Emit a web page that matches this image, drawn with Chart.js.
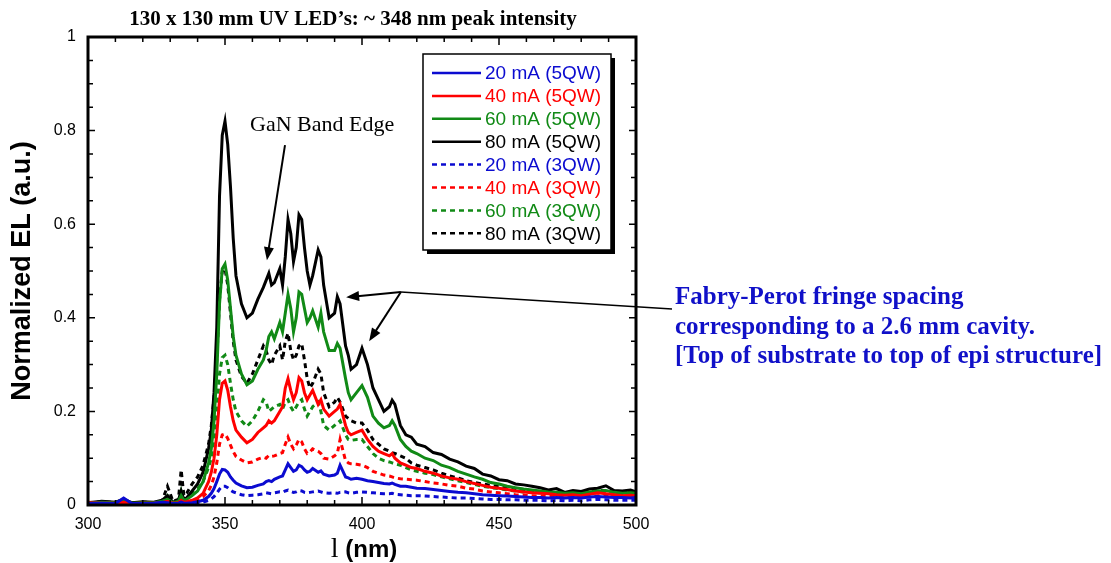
<!DOCTYPE html>
<html>
<head>
<meta charset="utf-8">
<script src="https://cdn.jsdelivr.net/npm/chart.js@4/dist/chart.umd.min.js"></script>
<style>
  body { margin: 0; background: #fff; }
  canvas { display: block; }
</style>
</head>
<body>
<canvas id="elChart" width="1111" height="563"></canvas>
<script>
// wavelength in nm, shared by all spectra
const wavelength = [
  300,305,310,313,316,320,324,327,329,331,333,334,335,336,338,340,
  342,344,345,346,347,348,349,350,351,352,353,354,356,358,360,
  362,364,365,366,367,368,370,371,372,373,374,375,376,377,378,379,380,381,382,384,385,386,388,390,391,392,394,395,396,398,400,
  402,404,406,408,410,411,412,414,416,418,420,
  423,426,429,432,435,438,441,444,447,450,453,456,459,462,465,468,471,474,477,480,483,486,489,492,495,498,500
];

// 5QW devices (solid lines)
const el20mA5QW = [
  0.003,0.004,0.003,0.015,0.003,0.003,0.004,0.006,0.005,0.003,0.004,0.006,0.004,0.004,0.005,0.007,
  0.01,0.018,0.025,0.035,0.05,0.066,0.076,0.075,0.07,0.06,0.053,0.047,0.041,0.037,0.038,
  0.042,0.045,0.05,0.052,0.05,0.055,0.06,0.062,0.075,0.088,0.08,0.072,0.075,0.085,0.082,0.075,0.07,0.072,0.078,0.07,0.073,0.066,0.062,0.064,0.068,0.085,0.06,0.058,0.055,0.057,0.055,
  0.052,0.05,0.048,0.046,0.045,0.047,0.044,0.04,0.04,0.038,0.036,
  0.035,0.033,0.031,0.029,0.027,0.026,0.024,0.022,0.021,0.02,0.019,0.018,0.017,0.016,0.016,0.015,0.016,0.015,0.016,0.015,0.017,0.018,0.017,0.016,0.016,0.015,0.016
];
const el40mA5QW = [
  0.005,0.004,0.004,0.006,0.003,0.004,0.004,0.005,0.008,0.004,0.005,0.01,0.006,0.007,0.01,0.015,
  0.025,0.05,0.07,0.1,0.15,0.225,0.26,0.265,0.245,0.21,0.18,0.16,0.145,0.133,0.14,
  0.155,0.165,0.17,0.18,0.175,0.18,0.2,0.21,0.25,0.27,0.245,0.225,0.24,0.272,0.265,0.24,0.225,0.235,0.245,0.215,0.225,0.205,0.19,0.2,0.205,0.215,0.17,0.155,0.15,0.155,0.16,
  0.14,0.125,0.115,0.11,0.105,0.11,0.1,0.09,0.085,0.08,0.078,
  0.072,0.068,0.062,0.058,0.055,0.05,0.046,0.042,0.038,0.036,0.033,0.03,0.028,0.026,0.025,0.024,0.022,0.021,0.022,0.02,0.023,0.026,0.024,0.022,0.02,0.021,0.02
];
const el60mA5QW = [
  0.004,0.006,0.005,0.01,0.004,0.005,0.005,0.008,0.012,0.005,0.008,0.02,0.01,0.012,0.02,0.03,
  0.05,0.09,0.12,0.18,0.28,0.43,0.505,0.515,0.48,0.42,0.36,0.32,0.28,0.257,0.265,
  0.29,0.31,0.33,0.36,0.37,0.355,0.39,0.37,0.41,0.45,0.42,0.37,0.40,0.455,0.45,0.42,0.39,0.40,0.415,0.38,0.41,0.37,0.33,0.33,0.345,0.335,0.27,0.24,0.225,0.24,0.255,
  0.23,0.19,0.175,0.165,0.17,0.18,0.17,0.14,0.125,0.115,0.11,
  0.1,0.095,0.085,0.08,0.072,0.066,0.06,0.055,0.048,0.045,0.04,0.037,0.034,0.032,0.03,0.028,0.027,0.025,0.026,0.024,0.028,0.03,0.031,0.027,0.025,0.026,0.025
];
const el80mA5QW = [
  0.005,0.008,0.006,0.012,0.005,0.007,0.006,0.01,0.02,0.006,0.01,0.03,0.012,0.015,0.03,0.045,
  0.07,0.12,0.16,0.24,0.38,0.66,0.79,0.82,0.77,0.68,0.57,0.49,0.43,0.40,0.41,
  0.44,0.465,0.48,0.495,0.47,0.475,0.505,0.47,0.53,0.61,0.58,0.52,0.55,0.62,0.61,0.55,0.50,0.47,0.49,0.545,0.53,0.47,0.40,0.41,0.445,0.43,0.34,0.32,0.29,0.30,0.335,
  0.30,0.25,0.225,0.20,0.21,0.224,0.215,0.17,0.15,0.145,0.13,
  0.125,0.112,0.108,0.098,0.092,0.083,0.078,0.066,0.062,0.054,0.052,0.045,0.043,0.04,0.037,0.032,0.035,0.027,0.031,0.029,0.034,0.036,0.041,0.031,0.03,0.032,0.028
];

// 3QW devices (dashed lines)
const el20mA3QW = [
  0.002,0.003,0.003,0.01,0.002,0.003,0.003,0.004,0.003,0.002,0.003,0.004,0.003,0.003,0.003,0.004,
  0.006,0.01,0.013,0.018,0.025,0.034,0.04,0.04,0.037,0.032,0.028,0.026,0.022,0.02,0.021,
  0.022,0.024,0.026,0.025,0.024,0.026,0.028,0.027,0.03,0.032,0.029,0.027,0.028,0.031,0.03,0.027,0.026,0.027,0.028,0.03,0.028,0.026,0.025,0.026,0.025,0.027,0.028,0.026,0.025,0.027,0.028,
  0.027,0.026,0.025,0.024,0.024,0.025,0.023,0.022,0.021,0.02,0.02,
  0.019,0.018,0.017,0.016,0.015,0.015,0.014,0.013,0.012,0.012,0.011,0.011,0.01,0.01,0.01,0.009,0.01,0.009,0.01,0.009,0.011,0.012,0.011,0.01,0.01,0.01,0.01
];
const el40mA3QW = [
  0.006,0.004,0.003,0.005,0.003,0.004,0.003,0.004,0.006,0.003,0.004,0.008,0.005,0.006,0.008,0.012,
  0.018,0.03,0.042,0.06,0.09,0.13,0.15,0.152,0.142,0.128,0.114,0.104,0.096,0.09,0.092,
  0.098,0.102,0.1,0.106,0.104,0.105,0.11,0.112,0.13,0.145,0.13,0.12,0.128,0.14,0.135,0.12,0.11,0.113,0.12,0.115,0.11,0.1,0.098,0.105,0.11,0.14,0.095,0.09,0.088,0.087,0.085,
  0.08,0.072,0.068,0.064,0.062,0.06,0.058,0.056,0.055,0.054,0.053,
  0.05,0.047,0.045,0.042,0.04,0.036,0.034,0.03,0.028,0.026,0.024,0.022,0.021,0.02,0.019,0.018,0.018,0.017,0.018,0.017,0.018,0.02,0.019,0.018,0.017,0.017,0.016
];
const el60mA3QW = [
  0.004,0.005,0.005,0.012,0.004,0.005,0.005,0.007,0.02,0.005,0.008,0.03,0.012,0.015,0.025,0.035,
  0.05,0.08,0.1,0.14,0.2,0.28,0.315,0.32,0.3,0.26,0.225,0.2,0.18,0.168,0.18,
  0.2,0.225,0.22,0.2,0.205,0.21,0.215,0.205,0.22,0.225,0.21,0.2,0.21,0.22,0.225,0.205,0.19,0.2,0.21,0.22,0.2,0.17,0.16,0.17,0.175,0.18,0.15,0.14,0.138,0.14,0.14,
  0.125,0.11,0.1,0.095,0.092,0.09,0.088,0.085,0.08,0.075,0.072,
  0.068,0.065,0.06,0.056,0.052,0.048,0.044,0.04,0.037,0.035,0.032,0.03,0.028,0.027,0.026,0.025,0.024,0.023,0.024,0.023,0.025,0.027,0.026,0.024,0.023,0.023,0.022
];
const el80mA3QW = [
  0.004,0.007,0.005,0.008,0.005,0.006,0.005,0.008,0.04,0.008,0.012,0.075,0.02,0.025,0.045,0.06,
  0.085,0.13,0.17,0.23,0.31,0.44,0.5,0.505,0.47,0.41,0.35,0.31,0.275,0.26,0.28,
  0.31,0.34,0.33,0.31,0.3,0.32,0.34,0.31,0.35,0.367,0.33,0.31,0.32,0.34,0.345,0.31,0.27,0.25,0.26,0.29,0.28,0.24,0.21,0.22,0.23,0.22,0.19,0.185,0.18,0.175,0.175,
  0.16,0.14,0.13,0.12,0.115,0.112,0.11,0.105,0.1,0.09,0.085,
  0.08,0.075,0.068,0.062,0.058,0.052,0.048,0.045,0.042,0.04,0.037,0.035,0.033,0.03,0.029,0.028,0.027,0.026,0.027,0.026,0.028,0.032,0.03,0.028,0.027,0.027,0.026
];

const seriesLabels = [
  "20 mA (5QW)", "40 mA (5QW)", "60 mA (5QW)", "80 mA (5QW)",
  "20 mA (3QW)", "40 mA (3QW)", "60 mA (3QW)", "80 mA (3QW)"
];
const xTicks = [300, 350, 400, 450, 500];
const yTicks = [0, 0.2, 0.4, 0.6, 0.8, 1];

const SERIF = "'Times New Roman', 'Liberation Serif', serif";
const SANS = "Arial, 'Liberation Sans', sans-serif";
const BLUE = "#0b0bd0", RED = "#ff0000", GREEN = "#118a16", BLACK = "#000000";

function series(label, values, color, dashed) {
  return {
    label: label,
    data: values.map((v, i) => ({ x: wavelength[i], y: v })),
    borderColor: color,
    backgroundColor: color,
    borderWidth: 3,
    borderDash: dashed ? [5, 4] : [],
    pointRadius: 0,
    fill: false,
    tension: 0
  };
}

function arrow(ctx, x1, y1, x2, y2) {
  const a = Math.atan2(y2 - y1, x2 - x1), len = 13, w = 5;
  ctx.beginPath();
  ctx.moveTo(x1, y1);
  ctx.lineTo(x2 - 6 * Math.cos(a), y2 - 6 * Math.sin(a));
  ctx.stroke();
  ctx.beginPath();
  ctx.moveTo(x2, y2);
  ctx.lineTo(x2 - len * Math.cos(a) + w * Math.sin(a), y2 - len * Math.sin(a) - w * Math.cos(a));
  ctx.lineTo(x2 - len * Math.cos(a) - w * Math.sin(a), y2 - len * Math.sin(a) + w * Math.cos(a));
  ctx.closePath();
  ctx.fill();
}

// frame, inward ticks, legend box, title and notes
const decorations = {
  id: "decorations",
  afterDatasetsDraw(chart) {
    const ctx = chart.ctx;
    const area = chart.chartArea;
    const xs = chart.scales.x, ys = chart.scales.y;
    ctx.save();

    // inner ticks on all four sides
    ctx.strokeStyle = "#000";
    ctx.lineWidth = 1.5;
    ctx.beginPath();
    for (let v = 300; v <= 500; v += 10) {
      const px = xs.getPixelForValue(v);
      const len = v % 50 === 0 ? 8 : 5;
      ctx.moveTo(px, area.bottom); ctx.lineTo(px, area.bottom - len);
      ctx.moveTo(px, area.top); ctx.lineTo(px, area.top + len);
    }
    for (let i = 0; i <= 20; i++) {
      const py = ys.getPixelForValue(i * 0.05);
      const len = i % 4 === 0 ? 7 : 5;
      ctx.moveTo(area.left, py); ctx.lineTo(area.left + len, py);
      ctx.moveTo(area.right, py); ctx.lineTo(area.right - len, py);
    }
    ctx.stroke();

    // frame
    ctx.lineWidth = 3;
    ctx.strokeRect(area.left, area.top, area.right - area.left, area.bottom - area.top);

    // legend
    const lx = 423, ly = 54, lw = 188, lh = 196;
    ctx.fillStyle = "#000";
    ctx.fillRect(lx + 4, ly + 4, lw, lh);
    ctx.fillStyle = "#fff";
    ctx.fillRect(lx, ly, lw, lh);
    ctx.lineWidth = 1.5;
    ctx.strokeRect(lx, ly, lw, lh);
    ctx.font = "19px " + SANS;
    ctx.textBaseline = "middle";
    ctx.textAlign = "left";
    chart.data.datasets.forEach((ds, i) => {
      const ry = 73 + i * 22.9;
      ctx.strokeStyle = ds.borderColor;
      ctx.lineWidth = 2.5;
      ctx.setLineDash(ds.borderDash);
      ctx.beginPath();
      ctx.moveTo(432, ry); ctx.lineTo(481, ry);
      ctx.stroke();
      ctx.setLineDash([]);
      ctx.fillStyle = ds.borderColor;
      ctx.fillText(ds.label, 485, ry + 1);
    });

    // title
    ctx.fillStyle = "#000";
    ctx.textAlign = "center";
    ctx.textBaseline = "alphabetic";
    ctx.font = "bold 21px " + SERIF;
    ctx.fillText("130 x 130 mm UV LED\u2019s: ~ 348 nm peak intensity", 353, 25);

    // x axis title: serif "l" then bold "(nm)"
    ctx.font = "28px " + SERIF;
    const w1 = ctx.measureText("l").width;
    ctx.font = "bold 24px " + SANS;
    const w2 = ctx.measureText(" (nm)").width;
    const x0 = 364 - (w1 + w2) / 2;
    ctx.textAlign = "left";
    ctx.font = "28px " + SERIF;
    ctx.fillText("l", x0, 557);
    ctx.font = "bold 24px " + SANS;
    ctx.fillText(" (nm)", x0 + w1, 557);

    // GaN band edge note
    ctx.font = "22px " + SERIF;
    ctx.fillText("GaN Band Edge", 250, 131);
    ctx.lineWidth = 2;
    ctx.strokeStyle = "#000";
    ctx.fillStyle = "#000";
    arrow(ctx, xs.getPixelForValue(371.9), ys.getPixelForValue(0.769),
               xs.getPixelForValue(365.3), ys.getPixelForValue(0.523));

    // Fabry-Perot note
    const fx = xs.getPixelForValue(414.2), fy = ys.getPixelForValue(0.455);
    arrow(ctx, fx, fy, xs.getPixelForValue(394.2), ys.getPixelForValue(0.444));
    arrow(ctx, fx, fy, xs.getPixelForValue(402.6), ys.getPixelForValue(0.35));
    ctx.lineWidth = 1.5;
    ctx.beginPath();
    ctx.moveTo(fx, fy);
    ctx.lineTo(672, 309);
    ctx.stroke();
    ctx.fillStyle = "#1010c8";
    ctx.font = "bold 25px " + SERIF;
    ctx.fillText("Fabry-Perot fringe spacing", 675, 304);
    ctx.fillText("corresponding to a 2.6 mm cavity.", 675, 334);
    ctx.fillText("[Top of substrate to top of epi structure]", 675, 363);

    ctx.restore();
  }
};

new Chart(document.getElementById("elChart"), {
  type: "line",
  data: {
    datasets: [
      series(seriesLabels[0], el20mA5QW, BLUE, false),
      series(seriesLabels[1], el40mA5QW, RED, false),
      series(seriesLabels[2], el60mA5QW, GREEN, false),
      series(seriesLabels[3], el80mA5QW, BLACK, false),
      series(seriesLabels[4], el20mA3QW, BLUE, true),
      series(seriesLabels[5], el40mA3QW, RED, true),
      series(seriesLabels[6], el60mA3QW, GREEN, true),
      series(seriesLabels[7], el80mA3QW, BLACK, true)
    ]
  },
  options: {
    responsive: false,
    animation: false,
    devicePixelRatio: 1,
    layout: { padding: { top: 37, right: 475, bottom: 0, left: 0 } },
    plugins: {
      legend: { display: false },
      title: { display: false },
      tooltip: { enabled: false }
    },
    scales: {
      x: {
        type: "linear",
        min: 300,
        max: 500,
        afterBuildTicks: (scale) => { scale.ticks = xTicks.map(v => ({ value: v })); },
        afterFit: (scale) => { scale.height = 58; },
        grid: { display: false, drawTicks: false },
        border: { display: false },
        ticks: { color: "#000", font: { family: SANS, size: 16 }, padding: 10, maxRotation: 0 }
      },
      y: {
        min: 0,
        max: 1,
        afterBuildTicks: (scale) => { scale.ticks = yTicks.map(v => ({ value: v })); },
        afterFit: (scale) => { scale.width = 88; },
        grid: { display: false, drawTicks: false },
        border: { display: false },
        ticks: { color: "#000", font: { family: SANS, size: 16 }, padding: 12, callback: (v) => String(v) },
        title: {
          display: true,
          text: "Normalized EL (a.u.)",
          color: "#000",
          font: { family: SANS, size: 27, weight: "bold" },
          padding: { top: 6, bottom: 0 }
        }
      }
    }
  },
  plugins: [decorations]
});
</script>
</body>
</html>
